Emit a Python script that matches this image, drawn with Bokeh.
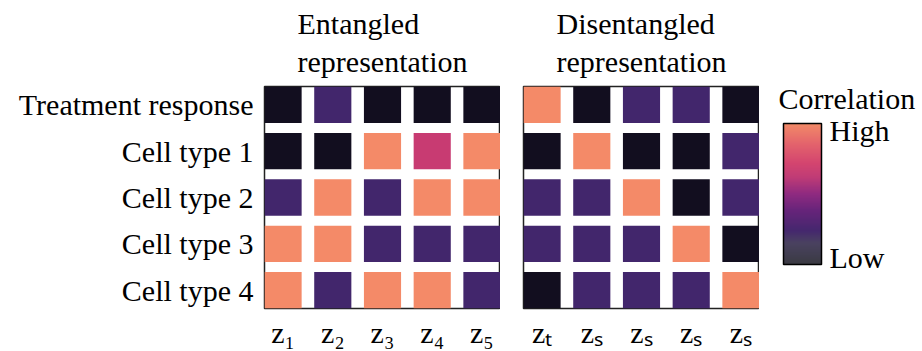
from bokeh.plotting import figure
from bokeh.models import (ColumnDataSource, LinearColorMapper, ColorBar, FixedTicker,
                          Range1d, Title, Label)
from bokeh.layouts import row
from bokeh.embed import file_html
from bokeh.resources import INLINE

# ---------------- data ----------------
row_labels = ["Treatment response", "Cell type 1", "Cell type 2", "Cell type 3", "Cell type 4"]
ent_cols = ["z\u2081", "z\u2082", "z\u2083", "z\u2084", "z\u2085"]
dis_cols = ["z\u209c", "z\u209b", "z\u209b", "z\u209b", "z\u209b"]

# correlation level of each cell: 0 = none, 1 = low, 2 = medium, 3 = high
ent_vals = [
    [0, 1, 0, 0, 0],
    [0, 0, 3, 2, 3],
    [1, 3, 1, 3, 3],
    [3, 3, 1, 1, 1],
    [3, 1, 3, 3, 1],
]
dis_vals = [
    [3, 0, 1, 1, 0],
    [0, 3, 0, 0, 1],
    [1, 1, 3, 0, 1],
    [1, 1, 1, 3, 0],
    [0, 1, 1, 1, 3],
]
titles = ["Entangled\nrepresentation", "Disentangled\nrepresentation"]
cb_title = "Correlation"
cb_labels = {5: "Low", 95: "High"}

# ---------------- style ----------------
FONT = "Times New Roman"
cell_palette = ["#120e1f", "#42266c", "#c83b72", "#f48a68"]
cell_mapper = LinearColorMapper(palette=cell_palette, low=0, high=3)

# colour-bar gradient anchors (bottom -> top)
anchors = [(0.00, "#3a3a42"), (0.15, "#4a4260"), (0.24, "#45276e"), (0.38, "#66247a"),
           (0.50, "#8f2a80"), (0.62, "#c03c76"), (0.72, "#d4456f"), (0.86, "#e4646c"),
           (1.00, "#f28a68")]


def hex2rgb(h):
    return tuple(int(h[i:i + 2], 16) for i in (1, 3, 5))


def make_gradient(n=256):
    out = []
    for k in range(n):
        t = k / (n - 1)
        for (t0, c0), (t1, c1) in zip(anchors[:-1], anchors[1:]):
            if t0 <= t <= t1:
                f = (t - t0) / (t1 - t0) if t1 > t0 else 0
                a, b = hex2rgb(c0), hex2rgb(c1)
                out.append("#%02x%02x%02x" % tuple(round(a[i] + (b[i] - a[i]) * f) for i in range(3)))
                break
    return out


cb_palette = make_gradient()

CW, CH = 0.747, 0.787
FRAME_W, FRAME_H = 236, 223
H = 351
TOP = 85
BOTTOM = H - TOP - FRAME_H


def make_matrix(vals, col_labels, title, show_y, left, right):
    xs, ys, vs = [], [], []
    for r, rv in enumerate(vals):
        for c, v in enumerate(rv):
            xs.append(c)
            ys.append(r)
            vs.append(v)
    src = ColumnDataSource(dict(x=xs, y=ys, v=vs))
    p = figure(width=left + FRAME_W + right, height=H,
               x_range=Range1d(-CW / 2, 4 + CW / 2),
               y_range=Range1d(4 + CH / 2, -CH / 2),
               output_backend="svg", toolbar_location=None,
               min_border_left=left, min_border_right=right,
               min_border_top=TOP, min_border_bottom=BOTTOM,
               y_axis_location="left" if show_y else None)
    p.rect(x="x", y="y", width=CW, height=CH, source=src,
           fill_color={"field": "v", "transform": cell_mapper}, line_color=None)
    p.grid.visible = False
    p.outline_line_color = "#222222"
    p.outline_line_width = 1.5
    p.background_fill_color = "white"
    p.border_fill_color = "white"

    p.xaxis.ticker = FixedTicker(ticks=list(range(len(col_labels))))
    p.xaxis.major_label_overrides = {i: s for i, s in enumerate(col_labels)}
    p.xaxis.axis_line_color = None
    p.xaxis.major_tick_line_color = None
    p.xaxis.minor_tick_line_color = None
    p.xaxis.major_label_text_font = FONT
    p.xaxis.major_label_text_font_size = "30px"
    p.xaxis.major_label_text_color = "black"
    p.xaxis.major_label_standoff = 1
    if show_y:
        p.yaxis.ticker = FixedTicker(ticks=list(range(len(row_labels))))
        p.yaxis.major_label_overrides = {i: s for i, s in enumerate(row_labels)}
        p.yaxis.axis_line_color = None
        p.yaxis.major_tick_line_color = None
        p.yaxis.minor_tick_line_color = None
        p.yaxis.major_label_text_font = FONT
        p.yaxis.major_label_text_font_size = "30px"
        p.yaxis.major_label_text_color = "black"
        p.yaxis.major_label_standoff = 5
    p.add_layout(Title(text=title, align="center", vertical_align="top",
                       text_font=FONT, text_font_size="30px",
                       text_font_style="normal", text_color="black",
                       text_line_height=1.17, standoff=12), "above")
    return p


p1 = make_matrix(ent_vals, ent_cols, titles[0], True, 264, 0)
p2 = make_matrix(dis_vals, dis_cols, titles[1], False, 23, 0)

# colour bar lives in its own empty panel
p3 = figure(width=922 - (264 + FRAME_W) - (23 + FRAME_W), height=H,
            x_range=Range1d(0, 1), y_range=Range1d(0, 1),
            output_backend="svg", toolbar_location=None,
            x_axis_location=None, y_axis_location=None,
            min_border_left=19, min_border_right=0,
            min_border_top=TOP, min_border_bottom=BOTTOM)
p3.grid.visible = False
p3.outline_line_color = None
p3.add_layout(Label(x=0, y=210, x_units="screen", y_units="screen", text=cb_title,
                    text_font=FONT, text_font_size="30px", text_color="black",
                    text_baseline="alphabetic", text_align="left"))

cb_mapper = LinearColorMapper(palette=cb_palette, low=0, high=100)
cb = ColorBar(color_mapper=cb_mapper, width=38, height=141,
              ticker=FixedTicker(ticks=list(cb_labels.keys())),
              major_label_overrides=cb_labels,
              major_tick_line_color=None, minor_tick_line_color=None,
              bar_line_color="black", bar_line_width=1.5,
              major_label_text_font=FONT, major_label_text_font_size="30px",
              major_label_text_color="black",
              label_standoff=8, padding=0, margin=0,
              location=(5, 44), border_line_color=None,
              background_fill_color=None)
p3.add_layout(cb, "center")

layout = row(p1, p2, p3, spacing=0)
open("out.html", "w").write(file_html(layout, INLINE))
